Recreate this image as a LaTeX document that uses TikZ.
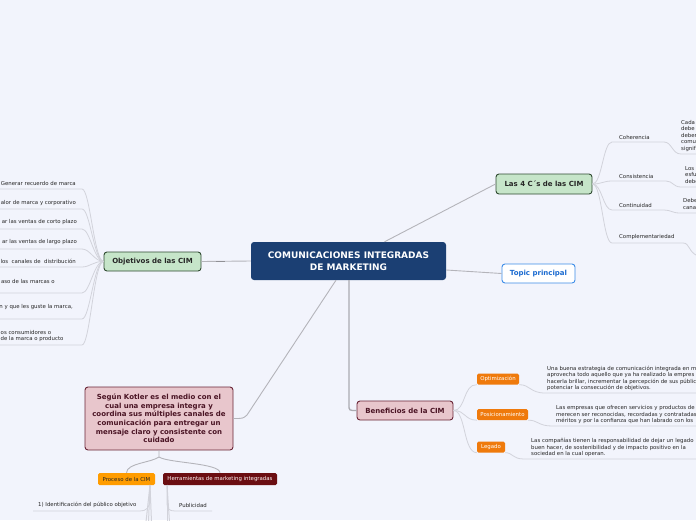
\documentclass[tikz,border=0pt]{standalone}
\usepackage{fontspec}
\setmainfont{DejaVu Sans}
\definecolor{bgc}{HTML}{F2F4FC}
\definecolor{mainblue}{HTML}{1B3F73}
\definecolor{greenfill}{HTML}{C6E5C9}
\definecolor{greendraw}{HTML}{2F4A30}
\definecolor{pinkfill}{HTML}{E8C6CC}
\definecolor{pinkdraw}{HTML}{6A2537}
\definecolor{pinktext}{HTML}{4A1424}
\definecolor{orangeA}{HTML}{FF9C00}
\definecolor{orangeB}{HTML}{EF7A0C}
\definecolor{darkred}{HTML}{6B0E12}
\definecolor{topicblue}{HTML}{3C8CE8}
\definecolor{topictext}{HTML}{1A6AD0}
\definecolor{linemain}{HTML}{B4B4BA}
\definecolor{linechild}{HTML}{D2D3DB}
\begin{document}
\begin{tikzpicture}[x=1pt,y=-1pt,
  conn/.style={draw=linemain,line width=0.9pt},
  connb/.style={draw=linemain!95!black,line width=1.3pt},
  cconn/.style={draw=linechild,line width=0.8pt},
  mainbox/.style={fill=mainblue,rounded corners=3pt,text=white,inner sep=0pt,
    font=\bfseries\fontsize{9}{12}\selectfont,align=center},
  greenbox/.style={fill=greenfill,draw=greendraw,line width=0.9pt,rounded corners=3pt,
    inner sep=0pt,font=\bfseries\fontsize{7}{8.6}\selectfont,text=black!85},
  pinkbox/.style={fill=pinkfill,draw=pinkdraw,line width=0.9pt,rounded corners=3pt,
    inner sep=0pt,font=\bfseries\fontsize{7}{8.6}\selectfont,text=pinktext,align=center},
  topicbox/.style={fill=white,draw=topicblue,line width=0.9pt,rounded corners=3pt,
    inner sep=0pt,font=\bfseries\fontsize{7}{8.6}\selectfont,text=topictext},
  tagbox/.style={rounded corners=1.5pt,inner sep=0pt,font=\fontsize{5.4}{6.5}\selectfont},
  stext/.style={inner sep=0pt,font=\fontsize{5.4}{6.5}\selectfont,text=black!85,align=left},
]
\fill[bgc] (0,0) rectangle (696,520);
\useasboundingbox (0,0) rectangle (696,520);

% ---------- main nodes ----------
\node[mainbox,minimum width=195pt,minimum height=38pt] (main) at (348.5,261)
  {COMUNICACIONES INTEGRADAS\\DE MARKETING};
\node[greenbox,minimum width=97pt,minimum height=19pt] (obj) at (152.5,261.5) {Objetivos de las CIM};
\node[greenbox,minimum width=96pt,minimum height=20pt] (fourc) at (544,184) {Las 4 C´s de las CIM};
\node[topicbox,minimum width=73pt,minimum height=19pt] (topic) at (538.5,273.5) {Topic principal};
\node[pinkbox,minimum width=96pt,minimum height=19pt] (benef) at (405,410.5) {Beneficios de la CIM};
\node[pinkbox,minimum width=148pt,minimum height=63pt,text width=144pt] (kotler) at (159,418.5)
  {Según Kotler es el medio con el\\cual una empresa integra y\\coordina sus múltiples canales de\\comunicación para entregar un\\mensaje claro y consistente con\\cuidado};
\node[tagbox,fill=orangeA,text=black!85,minimum width=57pt,minimum height=12pt] (proc) at (126.5,479) {Proceso de la CIM};
\node[tagbox,fill=darkred,text=white!88!pink,minimum width=114pt,minimum height=12pt] (herr) at (220,479) {Herramientas de marketing integradas};
\node[tagbox,fill=orangeB,text=white,minimum width=42pt,minimum height=11pt] (opt) at (498,379) {Optimización};
\node[tagbox,fill=orangeB,text=white,minimum width=51pt,minimum height=11pt] (pos) at (502.5,414.5) {Posicionamiento};
\node[tagbox,fill=orangeB,text=white,minimum width=28pt,minimum height=11pt] (leg) at (491,447) {Legado};

% ---------- main connectors ----------
\draw[conn] (main.west) -- (obj.east);
\draw[draw=linemain!80!black,line width=1.6pt] (216,261.3) -- (225,261.3);
\draw[conn] ([xshift=36pt]main.north) -- (fourc.west);
\draw[conn] ([yshift=-9pt]main.east) -- (topic.west);
\draw[conn] ([xshift=-12.5pt]main.south) -- (247,415) .. controls (243,418.5) .. (kotler.east);
\draw[connb] ([xshift=0.5pt]main.south) -- (349,405) .. controls (349,410.5) .. (benef.west);

% ---------- Objetivos children ----------
\node[stext,anchor=east] (o1) at (76,183) {Generar recuerdo de marca};
\node[stext,anchor=east] (o2) at (76,203) {alor de marca y corporativo};
\node[stext,anchor=east] (o3) at (77,222) {ar las ventas de corto plazo};
\node[stext,anchor=east] (o4) at (77,242) {ar las ventas de largo plazo};
\node[stext,anchor=east] (o5) at (76,261) {los\ \ canales de\ \ distribución};
\node[stext,anchor=east] (o6) at (55,281) {aso de las marcas o};
\node[stext,anchor=east] (o7) at (73,307) {n y que les guste la marca,};
\node[stext,anchor=west] (o8) at (0.5,336) {os consumidores o\\ de la marca o producto};
\foreach \yy in {189,209,229,249,267,293,319,345}{
  \draw[cconn] (obj.west) .. controls (94,261) and (90,\yy) .. (82,\yy) -- (-2,\yy);
}

% ---------- 4 C's children ----------
\node[stext,anchor=west] (c1) at (619,137) {Coherencia};
\node[stext,anchor=west] (c2) at (619,176) {Consistencia};
\node[stext,anchor=west] (c3) at (619,205) {Continuidad};
\node[stext,anchor=west] (c4) at (619,237) {Complementariedad};
\draw[cconn] (fourc.east) .. controls (602,184) and (603,142) .. (612,142) -- (664,142)
  .. controls (672,142) and (672,154) .. (681,154) -- (700,154);
\draw[cconn] (fourc.east) .. controls (602,184) and (603,181) .. (612,181) -- (666,181)
  .. controls (673,181) and (673,187) .. (681,187) -- (700,187);
\draw[cconn] (fourc.east) .. controls (602,184) and (603,210) .. (612,210) -- (664,210)
  .. controls (671,210) and (672,213) .. (680,213) -- (700,213);
\draw[cconn] (fourc.east) .. controls (602,184) and (603,243) .. (612,243) -- (683,243)
  .. controls (690,243) and (688,252) .. (698,256);
\node[stext,anchor=west,font=\fontsize{5.4}{6.5}\selectfont] (c1t) at (681,136) {Cada\\debe\\deber\\comu\\signif};
\node[stext,anchor=west,font=\fontsize{5.4}{6.8}\selectfont] (c2t) at (685,175) {Los\\esfu\\debe};
\node[stext,anchor=west,font=\fontsize{5.4}{7.5}\selectfont] (c3t) at (683,204) {Debe\\cana};

% ---------- Beneficios children ----------
\draw[cconn] (benef.east) .. controls (466,410.5) and (463,384) .. (opt.south west);
\draw[cconn] (benef.east) .. controls (466,410.5) and (464,420) .. (pos.south west);
\draw[cconn] (benef.east) .. controls (466,410.5) and (463,452.5) .. (leg.south west);
\draw[cconn] (opt.south east) .. controls (530,384.5) and (530,393) .. (545,393) -- (700,393);
\draw[cconn] (pos.south east) .. controls (538,420) and (538,426) .. (552,426) -- (700,426);
\draw[cconn] (leg.south east) .. controls (513,452.5) and (512,459) .. (524,459) -- (700,459);
\node[stext,anchor=west] (b1) at (547,378.5)
  {Una buena estrategia de comunicación integrada en m\\aprovecha todo aquello que ya ha realizado la empres\\hacerla brillar, incrementar la percepción de sus públic\\potenciar la consecución de objetivos.};
\node[stext,anchor=west] (b2) at (556,415)
  {Las empresas que ofrecen servicios y productos de\\merecen ser reconocidas, recordadas y contratadas\\méritos y por la confianza que han labrado con los};
\node[stext,anchor=west] (b3) at (531,447.5)
  {Las compañías tienen la responsabilidad de dejar un legado\\buen hacer, de sostenibilidad y de impacto positivo en la\\sociedad en la cual operan.};

% ---------- Kotler children ----------
\draw[conn] (kotler.south) -- (159,457) .. controls (150,463) and (127,463) .. (proc.north);
\draw[conn] (159,457) .. controls (168,463) and (220,463) .. (herr.north);
\node[stext,anchor=west] (p1) at (38,505) {1) Identificación del público objetivo};
\node[stext,anchor=west] (h1) at (179,505) {Publicidad};
\coordinate (pbot) at (150,485);
\coordinate (hbot) at (167,485);
\draw[cconn] (pbot) -- (150,499) .. controls (150,508) and (146,511) .. (140,511) -- (33,511);
\draw[cconn,line width=1pt] (pbot) -- (146,522);
\draw[cconn,line width=1pt] (pbot) -- (148.5,522);
\draw[cconn,line width=1pt] (pbot) -- (151.5,522);
\draw[cconn] (hbot) -- (167,502) .. controls (167,509) and (169,511) .. (175,511) -- (212,511);
\draw[cconn,line width=1pt] (hbot) -- (167,522);
\draw[cconn,line width=1pt] (hbot) -- (169.5,522);
\end{tikzpicture}
\end{document}
